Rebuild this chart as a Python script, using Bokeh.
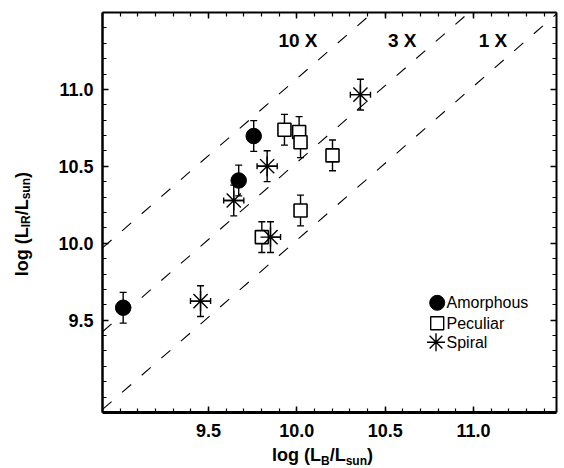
import numpy as np
from bokeh.plotting import figure
from bokeh.layouts import row, column
from bokeh.models import (Range1d, LinearAxis, FixedTicker, PrintfTickFormatter,
                          Label, Whisker, TeeHead, ColumnDataSource, Div)
from bokeh.embed import file_html
from bokeh.resources import INLINE

# ---------------- data ----------------
amorph_x = [9.017, 9.671, 9.756]
amorph_y = [9.581, 10.408, 10.697]
amorph_yerr = [0.10, 0.10, 0.10]

pec_x = [9.930, 10.013, 10.021, 10.202, 10.021, 9.802]
pec_y = [10.738, 10.723, 10.657, 10.571, 10.213, 10.040]
pec_yerr = [0.10, 0.10, 0.10, 0.10, 0.10, 0.10]

spir_x = [10.360, 9.832, 9.643, 9.851, 9.455]
spir_y = [10.966, 10.501, 10.278, 10.040, 9.624]
spir_yerr = [0.10, 0.10, 0.10, 0.10, 0.10]
spir_xerr = [0.057, 0.057, 0.057, 0.057, 0.057]

ratio_labels = ["10 X", "3 X", "1 X"]
ratio_offsets = [1.07, 0.525, 0.02]   # log(L_IR) - log(L_B) of the dashed lines

x_ticks = [9.5, 10.0, 10.5, 11.0]
y_ticks = [9.5, 10.0, 10.5, 11.0]
x_lim = (8.9, 11.47)
y_lim = (8.9, 11.5)
legend_labels = ["Amorphous", "Peculiar", "Spiral"]
x_title = ("log (L", "B", "/L", "sun", ")")
y_title = ("log (L", "IR", "/L", "sun", ")")

# ---------------- figure ----------------
FW, FH = 454, 400
FONT = "Liberation Sans"
YDIV_W = 40

p_width = (102 - YDIV_W) + FW + 8
p_height = 12 + FH + 30

p = figure(frame_width=FW, frame_height=FH,
           x_range=Range1d(*x_lim), y_range=Range1d(*y_lim),
           output_backend="svg", toolbar_location=None,
           min_border_left=102 - YDIV_W, min_border_right=8, min_border_top=12,
           min_border_bottom=30, margin=0)
p.extra_x_ranges = {"px": Range1d(0, FW)}
p.extra_y_ranges = {"px": Range1d(0, FH)}
p.grid.visible = False
p.outline_line_color = None
p.background_fill_color = "white"
p.border_fill_color = "white"

minor = [round(v, 2) for v in np.arange(8.9, 11.51, 0.1)]


def style_axis(ax, lw, ticks, labels=True):
    ax.ticker = FixedTicker(ticks=ticks, minor_ticks=minor)
    ax.axis_line_width = lw
    ax.axis_line_color = "black"
    ax.major_tick_in = 6
    ax.major_tick_out = 0
    ax.minor_tick_in = 4
    ax.minor_tick_out = 0
    ax.major_tick_line_width = 1.5
    ax.minor_tick_line_width = 1.2
    ax.major_tick_line_color = "black"
    ax.minor_tick_line_color = "black"
    if labels:
        ax.formatter = PrintfTickFormatter(format="%.1f")
        ax.major_label_text_font = FONT
        ax.major_label_text_font_size = "18px"
        ax.major_label_text_font_style = "bold"
        ax.major_label_text_color = "black"
    else:
        ax.major_label_text_font_size = "1px"
        ax.major_label_text_color = None
        ax.major_label_standoff = 0


style_axis(p.xaxis[0], 3, x_ticks)
p.xaxis[0].major_label_standoff = 11
style_axis(p.yaxis[0], 2.5, y_ticks)
p.yaxis[0].major_label_standoff = 9

top = LinearAxis()
style_axis(top, 2, x_ticks, labels=False)
p.add_layout(top, "above")
right = LinearAxis()
style_axis(right, 2, y_ticks, labels=False)
p.add_layout(right, "right")

# ---------------- dashed ratio lines ----------------
for off in ratio_offsets:
    xs = [x_lim[0], x_lim[1]]
    ys = [xs[0] + off, xs[1] + off]
    p.line(xs, ys, line_color="black", line_width=1.1, line_dash="12 14")

# ---------------- error bars ----------------
def vbars(xs, ys, errs):
    src = ColumnDataSource(dict(x=xs, lo=[y - e for y, e in zip(ys, errs)],
                                hi=[y + e for y, e in zip(ys, errs)]))
    p.add_layout(Whisker(base="x", lower="lo", upper="hi", dimension="height", source=src,
                         line_width=1.4, line_color="black", level="underlay",
                         upper_head=TeeHead(size=7, line_width=1.4),
                         lower_head=TeeHead(size=7, line_width=1.4)))


vbars(amorph_x, amorph_y, amorph_yerr)
vbars(pec_x, pec_y, pec_yerr)
vbars(spir_x, spir_y, spir_yerr)

hsrc = ColumnDataSource(dict(y=spir_y, lo=[x - e for x, e in zip(spir_x, spir_xerr)],
                             hi=[x + e for x, e in zip(spir_x, spir_xerr)]))
p.add_layout(Whisker(base="y", lower="lo", upper="hi", dimension="width", source=hsrc,
                     line_width=1.4, line_color="black", level="underlay",
                     upper_head=TeeHead(size=6, line_width=1.4),
                     lower_head=TeeHead(size=6, line_width=1.4)))

# ---------------- markers ----------------
p.scatter(amorph_x, amorph_y, marker="circle", size=15.5, fill_color="black", line_color="black")
p.scatter(pec_x, pec_y, marker="square", size=13, fill_color="white", line_color="black", line_width=1.6)
p.scatter(spir_x, spir_y, marker="asterisk", size=20, line_color="black", line_width=1.4)

# ---------------- legend (manual) ----------------
leg_mx = [334.7, 334.7, 333.5]
leg_my = [109.7, 89.3, 70.3]
p.scatter([leg_mx[0]], [leg_my[0]], marker="circle", size=15, fill_color="black",
          line_color="black", x_range_name="px", y_range_name="px")
p.scatter([leg_mx[1]], [leg_my[1]], marker="square", size=13, fill_color="white",
          line_color="black", line_width=1.4, x_range_name="px", y_range_name="px")
p.scatter([leg_mx[2]], [leg_my[2]], marker="asterisk", size=18, line_color="black",
          line_width=1.4, x_range_name="px", y_range_name="px")
for lab, yy in zip(legend_labels, leg_my):
    p.add_layout(Label(x=344, y=yy, text=lab, x_range_name="px", y_range_name="px",
                       text_font=FONT, text_font_size="16px", text_color="black",
                       text_align="left", text_baseline="middle"))

# ---------------- ratio labels ----------------
for lab, xx in zip(ratio_labels, [195.5, 299.7, 390.5]):
    p.add_layout(Label(x=xx, y=371.7, text=lab, x_range_name="px", y_range_name="px",
                       text_font=FONT, text_font_size="19px", text_font_style="bold",
                       text_color="black", text_align="center", text_baseline="middle"))

# ---------------- axis titles (HTML, with subscripts) ----------------
SUB = 'style="font-size:12px; vertical-align:-4px; line-height:0;"'


def title_html(parts):
    a, s1, b, s2, c = parts
    return f'{a}<span {SUB}>{s1}</span>{b}<span {SUB}>{s2}</span>{c}'


base_font = (f"font-family:'{FONT}'; font-weight:bold; font-size:18px; color:black;"
             " line-height:20px; white-space:nowrap;")

xdiv = Div(text=f'<div style="{base_font} padding-left:{272 - YDIV_W}px; padding-top:3px;">'
                f'{title_html(x_title)}</div>',
           width=p_width, height=468 - p_height, margin=0)

ydiv = Div(text=f'<div style="{base_font} writing-mode:vertical-rl; transform:rotate(180deg);'
                f' margin-left:12px; margin-top:172px;">{title_html(y_title)}</div>',
           width=YDIV_W, height=468, margin=0)

layout = row(ydiv, column(p, xdiv, spacing=0), spacing=0, margin=0)

open("out.html", "w").write(file_html(layout, INLINE))
